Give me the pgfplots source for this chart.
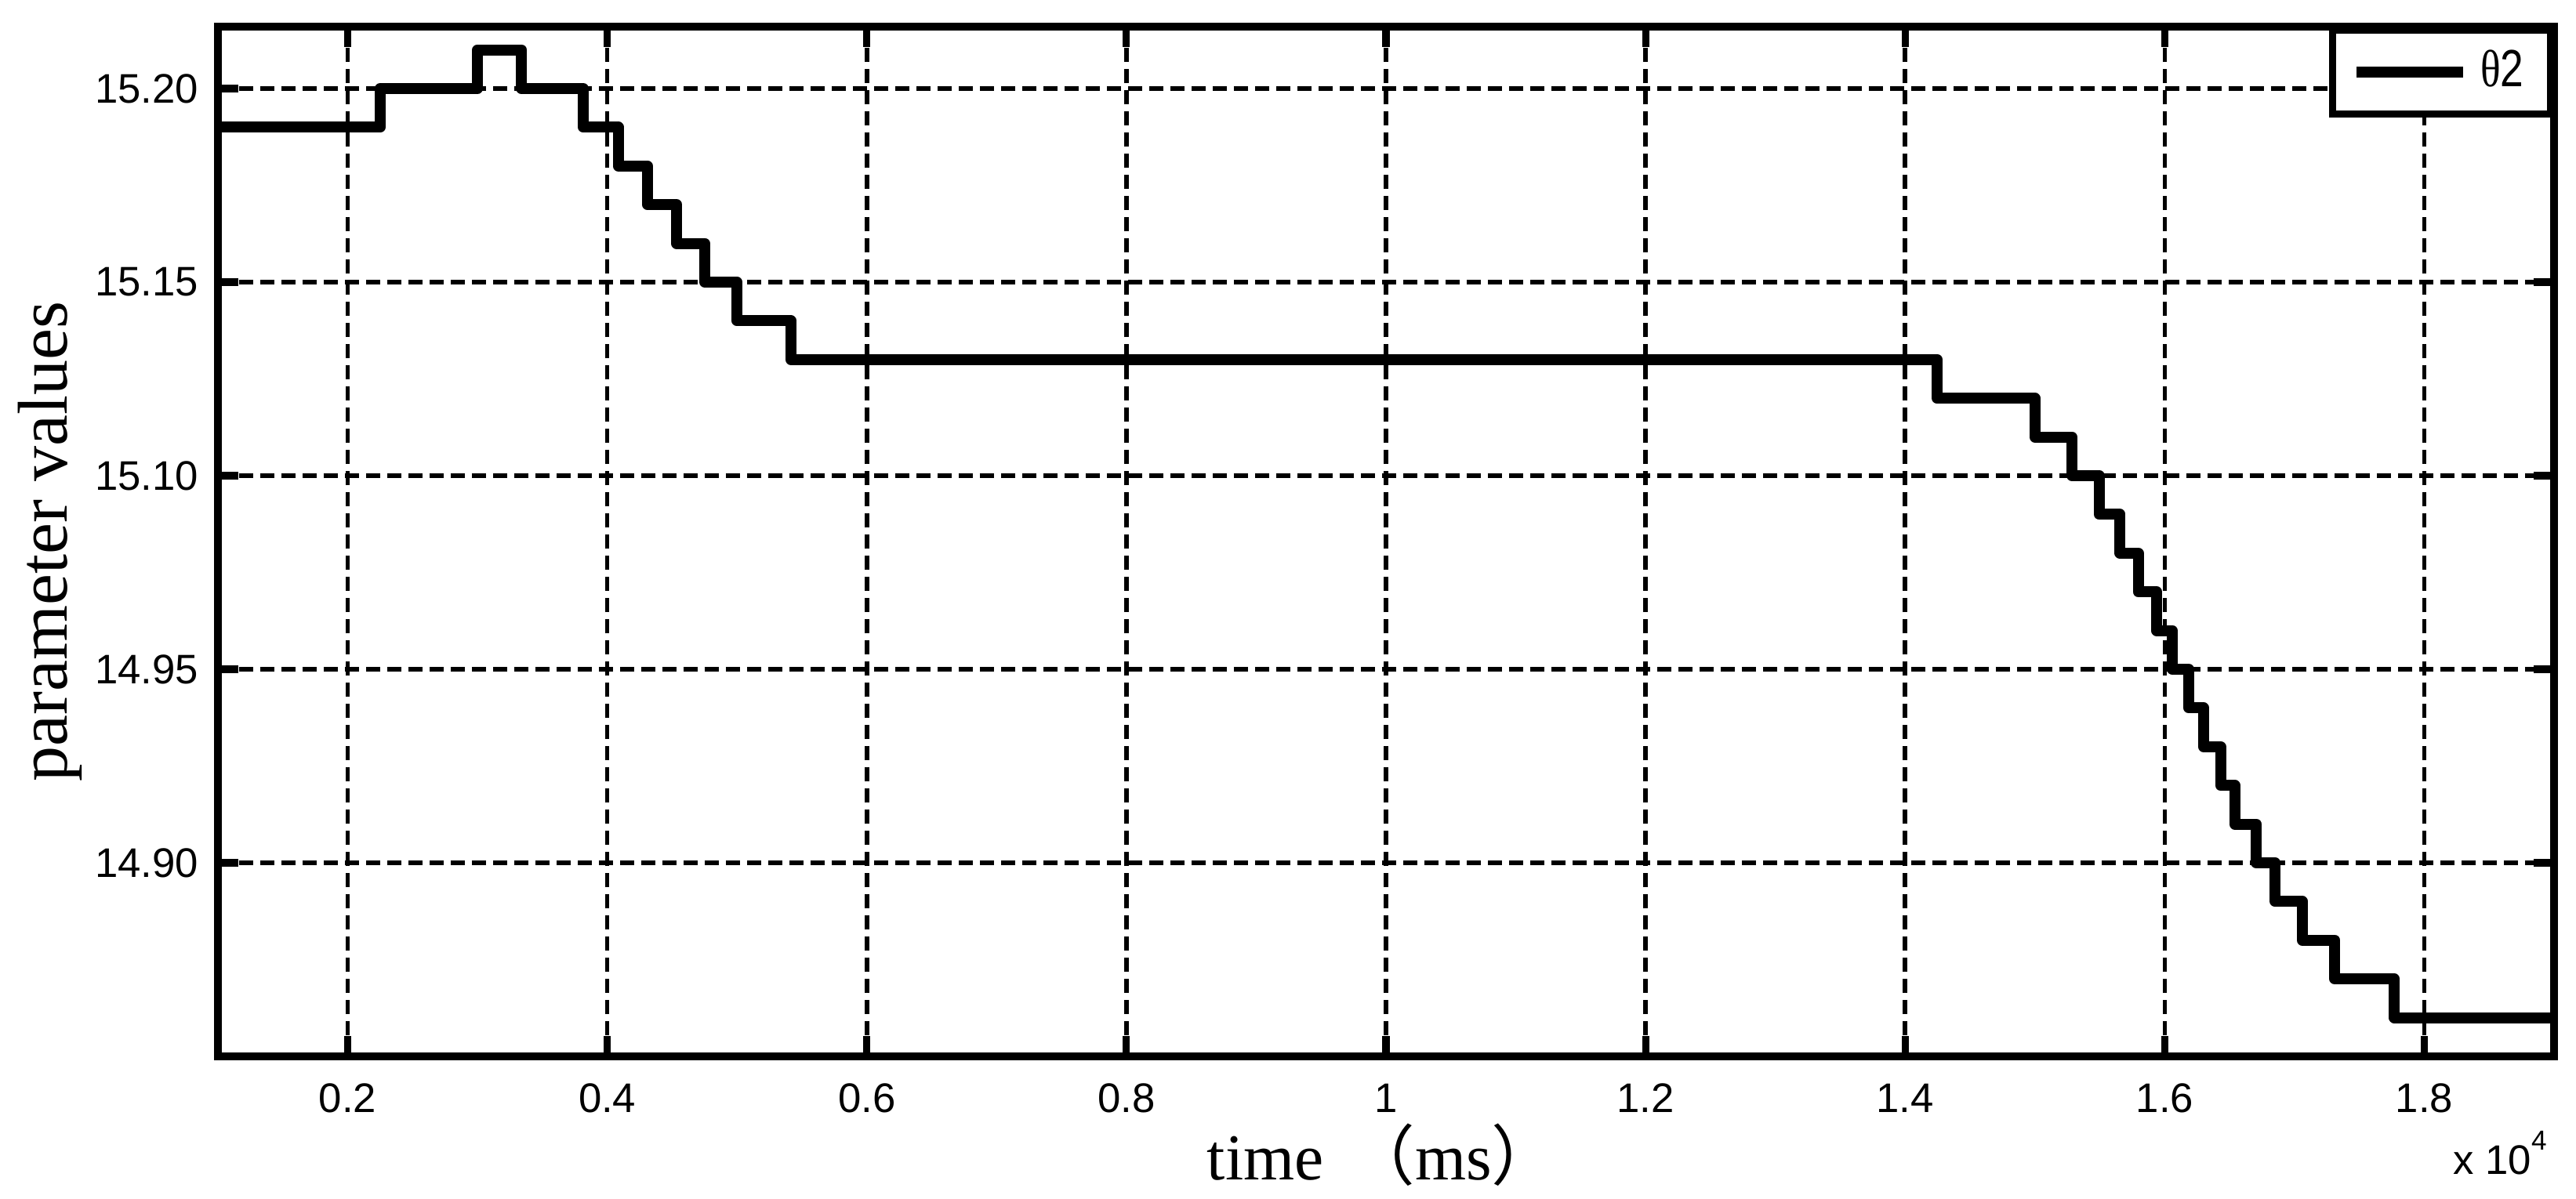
\documentclass[border=0pt]{standalone}
\usepackage{fontspec}
\setmainfont{Liberation Serif}
\newfontfamily\arial{Liberation Sans}
\newfontfamily\cjk{Noto Sans CJK SC}
\usepackage{graphicx}
\usepackage{pgfplots}
\pgfplotsset{compat=1.18}
\newcommand\tk[1]{{\arial\fontsize{7.5}{9}\selectfont #1}}

\begin{document}
\begin{tikzpicture}
\useasboundingbox (-1.39cm,-0.905cm) rectangle (15.04cm,6.74cm);
\begin{axis}[
  scale only axis, width=14.9cm, height=6.57cm,
  xmin=1000, xmax=19000, ymin=14.95, ymax=15.216,
  scaled x ticks=false, scaled y ticks=false,
  axis line style={line width=1.3pt},
  tick style={line width=1.3pt, black},
  tick align=inside, major tick length=0.13cm,
  xtick={2000,4000,...,18000},
  xticklabels={\tk{0.2},\tk{0.4},\tk{0.6},\tk{0.8},\tk{1},\tk{1.2},\tk{1.4},\tk{1.6},\tk{1.8}},
  xticklabel style={yshift=-0.05cm},
  ytick={15.00,15.05,15.10,15.15,15.20},
  yticklabels={\tk{14.90},\tk{14.95},\tk{15.10},\tk{15.15},\tk{15.20}},
  grid=major,
  major grid style={black, line width=0.8pt, dash pattern=on 0.09cm off 0.045cm},
  xlabel={\fontsize{11.9}{14}\selectfont time\hspace{0.165cm}{\cjk （}ms{\cjk ）}},
  ylabel={\fontsize{12.8}{15}\selectfont parameter values},
  every axis x label/.style={at={(axis description cs:0.423,-0.1195)}, anchor=base west, inner sep=0pt},
  every axis y label/.style={at={(axis description cs:-0.072,0.5)}, rotate=90, anchor=center},
  legend style={at={(rel axis cs:1,1)}, anchor=north east, draw=black, line width=1.3pt,
    inner xsep=0.12cm, inner ysep=0.075cm, column sep=0.025cm,
    nodes={inner sep=0.05cm},
    font=\fontsize{9.5}{11}\selectfont},
  legend cell align=left,
  legend image code/.code={\draw[#1] (0cm,0cm) -- (0.68cm,0cm);},
]
\addplot[const plot, black, line width=2pt, line join=round] coordinates {
(1000,15.19)
(2250,15.20)
(3000,15.21)
(3340,15.20)
(3815,15.19)
(4085,15.18)
(4310,15.17)
(4535,15.16)
(4752,15.15)
(5000,15.14)
(5415,15.13)
(14247,15.12)
(15000,15.11)
(15286,15.10)
(15495,15.09)
(15656,15.08)
(15796,15.07)
(15938,15.06)
(16059,15.05)
(16185,15.04)
(16300,15.03)
(16430,15.02)
(16540,15.01)
(16706,15.00)
(16852,14.99)
(17061,14.98)
(17311,14.97)
(17770,14.96)
(19000,14.96)
};
\addlegendentry{\scalebox{0.8}[1]{{\rmfamily θ}{\arial 2}}}
\end{axis}
\node[anchor=base east, inner sep=0pt] at ([xshift=-0.04cm,yshift=-0.75cm]current axis.south east)
  {\arial\fontsize{7.5}{9}\selectfont x 10\raisebox{0.155cm}{\fontsize{5}{6}\selectfont 4}};
\end{tikzpicture}
\end{document}
